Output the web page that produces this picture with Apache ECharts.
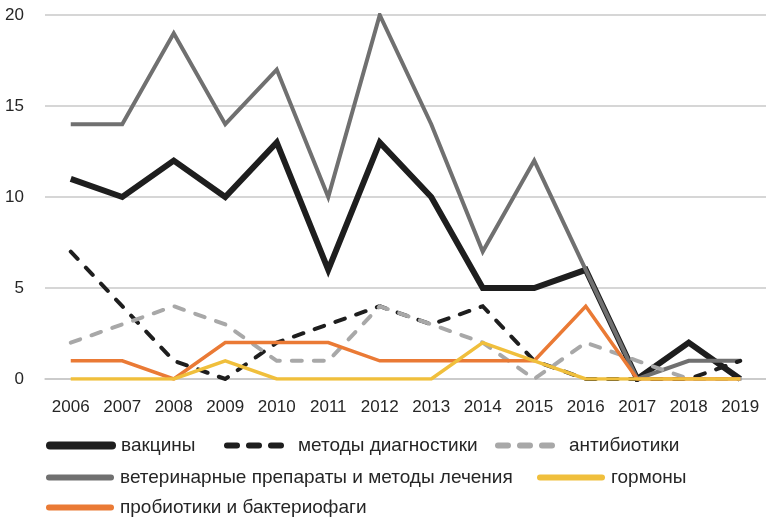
<!DOCTYPE html>
<html><head><meta charset="utf-8">
<script src="https://cdn.jsdelivr.net/npm/echarts@6/dist/echarts.min.js"></script>
<style>html,body{margin:0;padding:0;background:#fff}#c{width:766px;height:519px}</style>
</head><body><div id="c"></div>
<script>
const years = ['2006','2007','2008','2009','2010','2011','2012','2013','2014','2015','2016','2017','2018','2019'];
const vaccines    = [11,10,12,10,13,6,13,10,5,5,6,0,2,0];
const diagnostics = [7,4,1,0,2,3,4,3,4,1,0,0,0,1];
const antibiotics = [2,3,4,3,1,1,4,3,2,0,2,1,0,0];
const vetDrugs    = [14,14,19,14,17,10,20,14,7,12,6,0,1,1];
const hormones    = [0,0,0,1,0,0,0,0,2,1,0,0,0,0];
const probiotics  = [1,1,0,2,2,2,1,1,1,1,4,0,0,0];
const names = ['вакцины','методы диагностики','антибиотики','ветеринарные препараты и методы лечения','гормоны','пробиотики и бактериофаги'];

const FONT = '"Liberation Sans",Arial,sans-serif';
const chart = echarts.init(document.getElementById('c'), null, {renderer:'canvas'});
function ser(name, data, color, width, type, z){
  return {name, type:'line', data, symbol:'none', showSymbol:false, z, smooth:false,
    lineStyle:{color, width, type: type||'solid', cap: type ? 'round':'butt', join:'miter'},
    itemStyle:{color}};
}
function leg(name, left, top, w, dash){
  return {data:[name], left, top, itemWidth:62, itemHeight:10,
    lineStyle:{width:w, cap:'round', type: dash || 'solid'},
    itemStyle:{opacity:0},
    textStyle:{fontFamily:FONT, fontSize:19, color:'#262626', padding:[0,0,0,4]}, selectedMode:false, padding:0};
}
chart.setOption({
  animation:false,
  grid:{left:45, right:0, top:15, bottom:140, containLabel:false},
  xAxis:{type:'category', data:years, boundaryGap:true,
    axisLine:{show:true, lineStyle:{color:'#c8c8c8', width:1.5}}, axisTick:{show:false},
    axisLabel:{fontFamily:FONT, fontSize:17, color:'#262626', margin:20, interval:0}},
  yAxis:{type:'value', min:0, max:20, interval:5,
    axisLine:{show:false}, axisTick:{show:false},
    splitLine:{lineStyle:{color:'#c8c8c8', width:1.5}},
    axisLabel:{fontFamily:FONT, fontSize:17, color:'#262626', margin:21}},
  legend:[
    leg(names[0], 46, 436, 8),
    leg(names[1], 224, 436, 6, [10,12]),
    leg(names[2], 495, 436, 6, [10,12]),
    leg(names[3], 46, 468, 6),
    leg(names[4], 537, 468, 6),
    leg(names[5], 46, 498, 6)
  ],
  series:[
    ser(names[0], vaccines, '#1e1e1e', 6, null, 2),
    ser(names[3], vetDrugs, '#707070', 4, null, 3),
    ser(names[1], diagnostics, '#1e1e1e', 4, [10,12], 4),
    ser(names[2], antibiotics, '#a8a8a8', 4, [10,12], 5),
    ser(names[5], probiotics, '#ea7a35', 3.5, null, 6),
    ser(names[4], hormones, '#f0bf3c', 3.5, null, 7)
  ]
});
</script></body></html>
